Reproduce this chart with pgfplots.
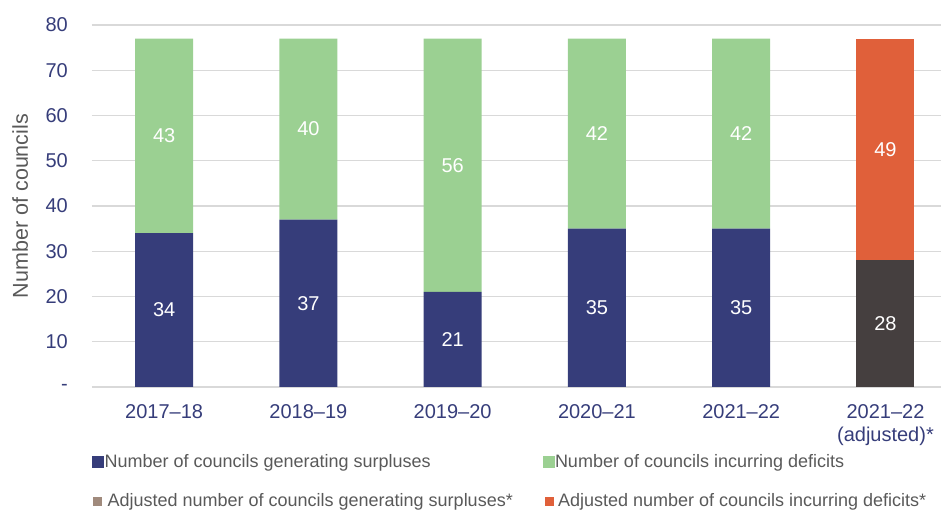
\documentclass[border=0pt]{standalone}
\usepackage{fontspec}
\setmainfont{Liberation Sans}
\usepackage{pgfplots}
\usepackage{pgfplotstable}
\pgfplotsset{compat=1.18}
\definecolor{navy}{HTML}{363D7A}
\definecolor{lgreen}{HTML}{9BD092}
\definecolor{orng}{HTML}{E0603A}
\definecolor{dgray}{HTML}{453F3F}
\definecolor{taupe}{HTML}{A08A7C}
\definecolor{gridg}{HTML}{D9D9D9}
\definecolor{txtg}{HTML}{595959}
\pgfplotstableread{
x s  as d  ad sl asl dl adl
0 34 0  43 0  34 {} 43 {}
1 37 0  40 0  37 {} 40 {}
2 21 0  56 0  21 {} 56 {}
3 35 0  42 0  35 {} 42 {}
4 35 0  42 0  35 {} 42 {}
5 0  28 0  49 {} 28 {} 49
}\datatable
\begin{document}
\begin{tikzpicture}
\path[use as bounding box] (-92pt,-123pt) rectangle (849pt,387pt);
\begin{axis}[
  at={(0pt,0pt)}, anchor=south west,
  scale only axis, width=849pt, height=362pt,
  xmin=-0.5, xmax=5.385, ymin=0, ymax=80,
  ybar stacked, bar width=58pt,
  axis line style={draw=none},
  tick style={draw=none},
  ymajorgrids, major grid style={draw=gridg, line width=1.3pt},
  ytick={0,10,...,80},
  yticklabels={{-\hspace{11pt}},10,20,30,40,50,60,70,80},
  yticklabel style={anchor=east, inner sep=0pt, xshift=-24pt, text=navy, font=\fontsize{20}{24}\selectfont},
  xtick={0,1,2,3,4,5},
  xticklabels={2017–18,2018–19,2019–20,2020–21,2021–22,{2021–22\\(adjusted)*}},
  xticklabel style={anchor=north, align=center, inner sep=0pt, yshift=-17pt, text=navy, font=\fontsize{20}{23.5}\selectfont},
  ylabel={Number of councils},
  ylabel style={at={(axis description cs:0,0.5)}, anchor=north, inner sep=0pt, yshift=80pt, text=txtg, font=\fontsize{21.5}{26}\selectfont},
  every node near coord/.append style={anchor=center, text=white, font=\fontsize{20}{24}\selectfont, inner sep=0pt},
  legend columns=2,
  legend cell align=left,
  legend style={at={(0pt,0pt)}, anchor=north west, yshift=-66pt, draw=none, fill=none, inner sep=0pt,
    font=\fontsize{18}{21.6}\selectfont, text=txtg, row sep=23pt,
    nodes={inner sep=1pt}},
]
\addplot[fill=navy, draw=none, forget plot, nodes near coords, point meta=explicit symbolic,
  visualization depends on={\thisrow{s}\as\rawy}] table[x=x, y=s, meta=sl] {\datatable};
\addplot[fill=dgray, draw=none, forget plot, nodes near coords, point meta=explicit symbolic,
  visualization depends on={\thisrow{as}\as\rawy}] table[x=x, y=as, meta=asl] {\datatable};
\addplot[fill=lgreen, draw=none, forget plot, nodes near coords, point meta=explicit symbolic,
  visualization depends on={\thisrow{d}\as\rawy}] table[x=x, y=d, meta=dl] {\datatable};
\addplot[fill=orng, draw=none, forget plot, nodes near coords, point meta=explicit symbolic,
  visualization depends on={\thisrow{ad}\as\rawy}] table[x=x, y=ad, meta=adl] {\datatable};
\addlegendimage{legend image code/.code={\fill[navy] (0pt,-5.5pt) rectangle (11pt,5.5pt);}}
\addlegendentry{\makebox[437pt][l]{Number of councils generating surpluses}}
\addlegendimage{legend image code/.code={\fill[lgreen] (0pt,-5.5pt) rectangle (11pt,5.5pt);}}
\addlegendentry{Number of councils incurring deficits}
\addlegendimage{legend image code/.code={\fill[taupe] (1pt,-4pt) rectangle (9pt,4pt);}}
\addlegendentry{\makebox[437pt][l]{\hspace{3pt}Adjusted number of councils generating surpluses*}}
\addlegendimage{legend image code/.code={\fill[orng] (2pt,-4pt) rectangle (10pt,4pt);}}
\addlegendentry{\hspace{3pt}Adjusted number of councils incurring deficits*}
\end{axis}
\end{tikzpicture}
\end{document}
